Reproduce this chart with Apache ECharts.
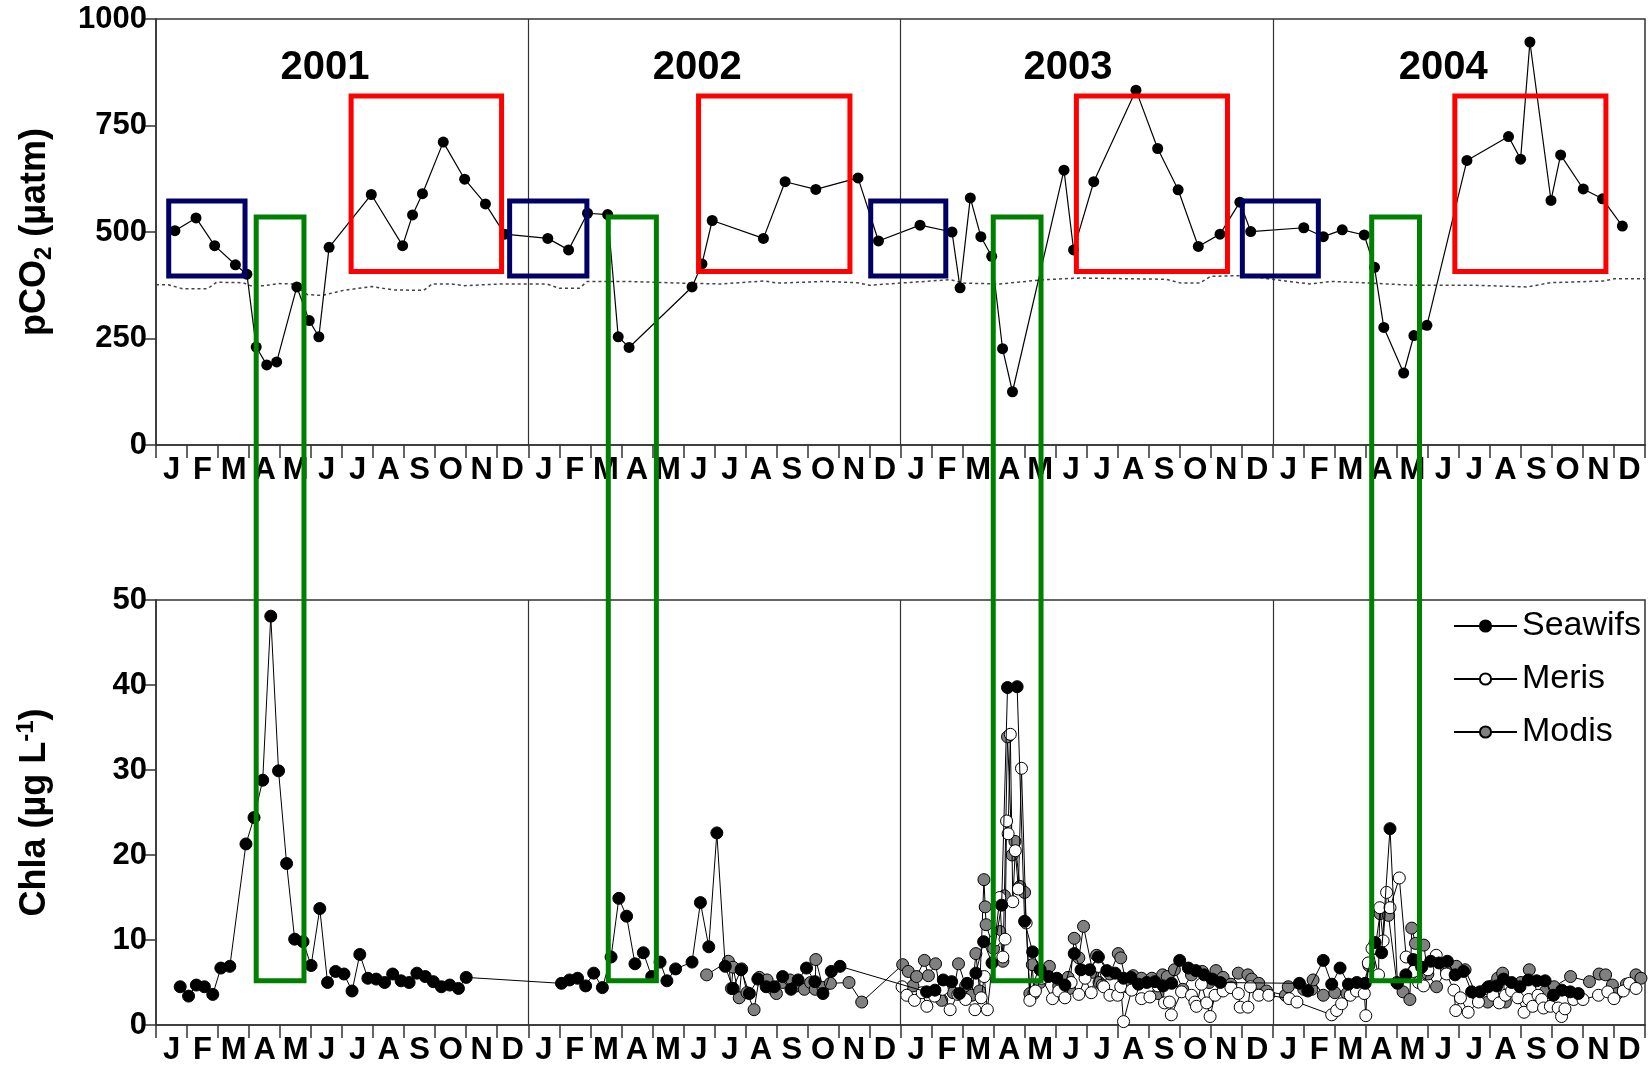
<!DOCTYPE html>
<html><head><meta charset="utf-8">
<script src="https://cdn.jsdelivr.net/npm/echarts@6/dist/echarts.min.js"></script>
<style>html,body{margin:0;padding:0;background:#fff}#c{width:1651px;height:1067px}</style>
</head><body><div id="c"></div>
<script>
// ---------- data (x in months since Jan 2001) ----------
const monthLetters = ['J','F','M','A','M','J','J','A','S','O','N','D'];
const years = ['2001','2002','2003','2004'];
const yearBoundaries = [12, 24, 36];
const yearLabelMonth = [5.45, 17.45, 29.4, 41.5];
const yearLabelValue = 886;

const pco2 = [[0.61,503],[1.29,533],[1.89,468],[2.56,423],[2.93,401],[3.23,230],[3.57,188],[3.89,195],[4.54,371],[4.94,292],[5.25,254],[5.58,464],[6.94,588],[7.95,468],[8.27,540],[8.59,590],[9.26,711],[9.95,624],[10.62,566],[11.24,495],[12.63,485],[13.30,458],[13.91,544],[14.56,541],[14.90,254],[15.25,229],[17.28,371],[17.60,425],[17.93,527],[19.58,485],[20.28,618],[21.27,600],[22.63,627],[23.29,479],[24.63,516],[25.66,500],[25.92,369],[26.25,580],[26.59,489],[26.94,443],[27.29,226],[27.61,125],[29.27,645],[29.58,458],[30.23,618],[31.59,833],[32.29,696],[32.95,599],[33.60,466],[34.30,495],[34.94,570],[35.29,501],[37.0,510],[37.63,489],[38.24,505],[38.95,493],[39.28,417],[39.58,276],[40.22,169],[40.55,257],[40.97,281],[42.26,668],[43.60,724],[43.99,671],[44.29,946],[44.97,574],[45.28,681],[46.01,601],[46.63,578],[47.27,514]];

const atmCO2 = [[0,376],[0.4,376],[0.85,367],[1.66,367],[1.95,382],[2.8,381],[3.04,374],[3.5,374],[3.96,379],[4.42,378],[4.88,353],[5.35,351],[6.04,363],[6.96,372],[7.65,364],[8.63,363],[8.9,378],[9.5,378],[9.95,374],[11.1,378],[12.6,378],[13.0,368],[13.65,368],[13.9,384],[15.2,384],[16.9,380],[18.2,378],[19.6,385],[20.05,380],[21.55,384],[22.6,381],[23.0,375],[23.97,380],[25.6,388],[26.04,380],[27.2,378],[28.6,388],[29.8,392],[32.56,389],[33.05,380],[33.65,380],[34.0,396],[35.2,398],[35.96,389],[37.2,378],[37.9,384],[38.9,381],[40.5,375],[42.5,375],[44.2,371],[44.96,381],[46.66,385],[47.0,390],[48,390]];

const seawifs = [[0.78,4.5],[1.05,3.4],[1.30,4.7],[1.56,4.5],[1.83,3.6],[2.09,6.7],[2.38,6.9],[2.90,21.3],[3.16,24.4],[3.44,28.8],[3.70,48.1],[3.95,29.9],[4.21,19.0],[4.47,10.1],[4.74,9.8],[5.0,7.0],[5.28,13.7],[5.53,5.0],[5.79,6.3],[6.06,6.0],[6.32,4.0],[6.57,8.3],[6.83,5.5],[7.10,5.4],[7.37,5.0],[7.63,6.0],[7.90,5.2],[8.16,5.0],[8.41,6.1],[8.68,5.7],[8.94,5.1],[9.20,4.5],[9.47,4.7],[9.75,4.3],[10.0,5.6],
[13.07,4.9],[13.33,5.3],[13.59,5.5],[13.85,4.6],[14.11,6.1],[14.39,4.4],[14.67,8.0],[14.92,14.9],[15.17,12.8],[15.44,7.2],[15.71,8.5],[15.98,5.7],[16.25,7.4],[16.47,5.2],[16.75,6.6],[17.28,7.4],[17.55,14.4],[17.82,9.2],[18.08,22.6],[18.35,6.9],[18.6,4.3],[18.86,6.5],[19.13,3.7],[19.4,5.4],[19.67,4.5],[19.93,4.5],[20.2,5.7],[20.47,4.2],[20.7,5.3],[20.97,6.7],[21.24,5.1],[21.5,3.7],[21.77,6.3],[22.05,6.9],
[24.84,3.9],[25.11,4.1],[25.38,5.3],[25.65,5.1],[25.9,3.7],[26.15,4.9],[26.43,6.1],[26.68,9.8],[26.95,7.3],[27.26,14.1],[27.45,39.7],[27.76,39.8],[28.0,12.2],[28.26,8.6],[28.5,6.5],[28.77,5.7],[29.04,5.5],[29.3,4.7],[29.6,8.4],[29.82,6.5],[30.1,6.5],[30.38,8.0],[30.65,6.4],[30.92,6.1],[31.19,5.5],[31.43,5.6],[31.67,4.8],[31.94,5.0],[32.2,5.1],[32.47,4.6],[32.74,4.9],[33.0,7.6],[33.28,6.7],[33.52,6.4],[33.79,5.9],[34.05,5.4],[34.31,5.0],
[36.86,4.9],[37.13,4.0],[37.63,7.6],[37.9,4.8],[38.17,6.7],[38.44,4.8],[38.71,5.0],[38.98,4.9],[39.3,9.7],[39.51,8.5],[39.78,23.1],[40.02,4.9],[40.29,5.9],[40.53,7.7],[40.8,6.8],[41.09,7.5],[41.36,7.3],[41.63,7.5],[41.88,5.9],[42.15,6.3],[42.41,3.9],[42.68,3.9],[42.95,4.5],[43.22,4.6],[43.44,5.4],[43.7,5.0],[43.97,4.5],[44.24,5.3],[44.51,5.2],[44.78,5.2],[45.05,3.5],[45.32,4.1],[45.59,3.9],[45.85,3.7]];

const meris = [[24.05,4.5],[24.2,3.5],[24.45,2.9],[24.7,3.8],[24.85,2.2],[25.1,3.4],[25.35,4.2],[25.6,1.8],[25.85,3.6],[26.1,3.0],[26.4,1.8],[26.6,3.2],[26.7,5.7],[26.8,1.8],[27.05,10.0],[27.2,15.0],[27.3,8.0],[27.37,10.1],[27.42,24.0],[27.47,22.5],[27.54,34.2],[27.62,14.5],[27.7,20.5],[27.8,16.0],[27.9,30.2],[28.05,12.0],[28.17,2.9],[28.35,4.0],[28.55,5.5],[28.9,3.1],[29.1,4.0],[29.3,3.2],[29.5,5.0],[29.75,3.6],[29.95,5.5],[30.15,3.8],[30.38,6.9],[30.55,4.5],[30.75,3.5],[31.0,3.5],[31.1,4.5],[31.19,0.4],[31.45,4.1],[31.77,3.1],[32.04,3.3],[32.3,4.6],[32.51,2.6],[32.67,2.7],[32.73,1.2],[33.06,3.9],[33.38,3.5],[33.49,2.7],[33.54,2.2],[33.7,4.8],[33.87,2.6],[33.98,1.0],[34.14,3.5],[34.4,4.0],[34.65,4.4],[34.89,3.7],[34.95,2.1],[35.2,2.1],[35.28,4.5],[35.55,3.5],[35.87,3.5],
[36.53,3.1],[36.78,2.7],[37.9,1.2],[38.06,1.7],[38.22,2.5],[38.5,3.5],[38.7,4.0],[38.95,3.7],[39.0,1.1],[39.08,7.3],[39.2,9.0],[39.41,5.9],[39.45,13.8],[39.56,9.9],[39.67,15.6],[39.78,13.8],[40.08,17.3],[40.3,8.0],[40.53,6.3],[40.7,5.0],[40.86,4.6],[41.0,6.5],[41.27,8.2],[41.6,6.0],[41.84,4.1],[41.9,1.7],[42.05,3.2],[42.3,1.5],[42.63,2.7],[42.9,4.3],[43.1,3.5],[43.3,2.6],[43.5,3.5],[43.7,4.0],[43.9,3.2],[44.1,1.5],[44.25,3.0],[44.38,2.2],[44.55,3.5],[44.67,3.0],[44.73,2.0],[44.95,2.2],[45.2,2.0],[45.31,1.0],[45.42,1.9],[45.7,3.0],[46.0,3.0],[46.5,3.5],[46.8,3.9],[47.0,3.1],[47.3,4.0],[47.5,4.9],[47.71,4.3]];

const modis = [[17.75,5.9],[18.45,7.5],[18.55,4.3],[18.6,6.8],[18.8,3.2],[18.88,6.6],[19.05,3.8],[19.28,1.8],[19.45,5.6],[19.7,5.3],[19.9,4.2],[20.0,3.7],[20.2,5.0],[20.44,5.3],[20.65,4.6],[20.9,4.2],[21.1,5.0],[21.25,4.2],[21.27,7.7],[21.5,4.4],[21.74,4.9],[22.34,5.0],[22.75,2.7],[24.07,7.1],
[24.25,6.3],[24.4,4.6],[24.52,5.7],[24.77,7.6],[24.9,5.8],[25.13,7.2],[25.33,2.9],[25.5,4.8],[25.7,3.8],[25.87,7.2],[26.1,4.6],[26.3,3.5],[26.43,8.4],[26.55,4.0],[26.69,17.1],[26.73,13.9],[26.76,11.8],[27.0,9.0],[27.2,11.0],[27.3,7.5],[27.35,15.2],[27.45,33.9],[27.6,20.0],[27.69,21.6],[27.85,16.3],[28.0,15.6],[28.17,3.7],[28.25,7.1],[28.3,3.7],[28.5,5.0],[28.8,6.9],[29.1,4.6],[29.4,5.6],[29.45,4.3],[29.6,10.2],[29.75,7.9],[29.9,11.6],[30.2,6.2],[30.32,8.2],[30.4,5.0],[30.5,4.7],[30.75,6.0],[31.02,8.4],[31.1,7.9],[31.3,4.5],[31.5,5.8],[31.77,5.5],[32.1,5.5],[32.3,3.7],[32.45,5.9],[32.6,5.7],[32.83,6.5],[33.1,4.2],[33.38,5.9],[33.73,6.3],[33.95,5.0],[34.17,6.4],[34.4,5.6],[34.65,4.8],[34.89,6.1],[35.2,5.9],[35.32,5.4],[35.55,4.9],[35.8,4.0],
[36.41,3.5],[36.5,4.5],[37.0,4.2],[37.26,4.2],[37.3,5.3],[37.63,3.5],[38.0,3.8],[38.39,3.7],[38.65,4.2],[38.93,4.8],[39.1,7.0],[39.3,9.0],[39.46,13.1],[39.73,12.9],[40.0,5.0],[40.2,3.9],[40.42,3.0],[40.48,11.4],[40.6,9.6],[40.87,9.4],[41.0,6.0],[41.28,4.5],[41.6,6.5],[41.92,6.9],[42.2,6.5],[42.55,3.7],[42.93,2.7],[43.08,4.6],[43.25,5.5],[43.41,6.1],[43.5,2.7],[43.8,4.2],[44.0,5.0],[44.27,6.5],[44.57,3.4],[44.8,4.0],[45.07,4.5],[45.6,5.7],[46.21,5.1],[46.52,6.0],[46.73,5.9],[46.95,4.7],[47.1,3.7],[47.4,4.8],[47.71,5.9],[47.87,5.5]];

// annotation boxes: [startMonth, endMonth, lowValue, highValue] in pCO2 units
const blueBoxes = [[0.41,2.87,397,573],[11.4,13.89,397,573],[23.04,25.46,397,573],[35.02,37.47,397,573]];
const redBoxes = [[6.29,11.14,407,819],[17.49,22.37,407,819],[29.67,34.54,407,819],[41.87,46.74,407,819]];
// green boxes: [startMonth, endMonth]; top in pCO2 units, bottom in Chla units
const greenBoxes = [[3.23,4.77],[14.58,16.13],[26.99,28.53],[39.19,40.73]];
const greenTopPco2 = 535;
const greenBottomChla = 5.2;

// ---------- chart ----------
const FONT = '"Liberation Sans", Arial, sans-serif';
const monthLabels48 = [].concat(monthLetters, monthLetters, monthLetters, monthLetters);
const chart = echarts.init(document.getElementById('c'), null, {renderer:'canvas'});
const axisCol = '#333';

function valueX(grid){
  return {type:'value', gridIndex:grid, min:0, max:48, interval:1, position:'bottom',
    axisLine:{show:true, onZero:false, lineStyle:{color:axisCol, width:1.5}},
    axisTick:{show:true, length:13, lineStyle:{color:axisCol, width:1.5}},
    axisLabel:{show:false}, splitLine:{show:false}};
}
function catX(grid){
  return {type:'category', gridIndex:grid, data:monthLabels48, position:'bottom',
    axisLine:{show:false}, axisTick:{show:false}, splitLine:{show:false},
    axisLabel:{interval:0, margin:10, fontSize:31, fontWeight:'bold', color:'#000', fontFamily:FONT}};
}
const yearLineMark = {silent:true, symbol:['none','none'], label:{show:false},
  lineStyle:{type:'solid', color:axisCol, width:1.2}, animation:false,
  data: yearBoundaries.map(v => ({xAxis:v}))};
const yLabel = {fontSize:31, fontWeight:'bold', color:'#000', margin:9, fontFamily:FONT, formatter:(v)=>String(v)};

const option = {
  animation:false,
  backgroundColor:'#fff',
  grid:[
    {left:156, right:6, top:19, height:426, show:true, borderColor:axisCol, borderWidth:1.5, containLabel:false},
    {left:156, right:6, top:600, height:425, show:true, borderColor:axisCol, borderWidth:1.5, containLabel:false}
  ],
  xAxis:[valueX(0), catX(0), valueX(1), catX(1)],
  yAxis:[
    {type:'value', gridIndex:0, min:0, max:1000, interval:250,
     axisLine:{show:true, lineStyle:{color:axisCol, width:1.5}},
     axisTick:{show:true, length:12, lineStyle:{color:axisCol, width:1.5}},
     axisLabel:yLabel, splitLine:{show:false},
     name:'{a|pCO}{s|2}{a| (µatm)}', nameLocation:'middle', nameRotate:90, nameGap:100,
     nameTextStyle:{rich:{
       a:{fontSize:36, fontWeight:'bold', color:'#000', lineHeight:42, fontFamily:FONT},
       s:{fontSize:24, fontWeight:'bold', color:'#000', lineHeight:20, verticalAlign:'bottom', fontFamily:FONT}}}},
    {type:'value', gridIndex:1, min:0, max:50, interval:10,
     axisLine:{show:true, lineStyle:{color:axisCol, width:1.5}},
     axisTick:{show:true, length:12, lineStyle:{color:axisCol, width:1.5}},
     axisLabel:yLabel, splitLine:{show:false},
     name:'{a|Chla (µg L}{p|-1}{a|)}', nameLocation:'middle', nameRotate:90, nameGap:100,
     nameTextStyle:{rich:{
       a:{fontSize:36, fontWeight:'bold', color:'#000', lineHeight:42, fontFamily:FONT},
       p:{fontSize:24, fontWeight:'bold', color:'#000', lineHeight:20, verticalAlign:'top', fontFamily:FONT}}}}
  ],
  legend:{
    data:['Seawifs','Meris','Modis'], orient:'vertical', left:1448, top:604,
    itemWidth:63, itemHeight:14, itemGap:19,
    textStyle:{fontSize:34, color:'#000', fontFamily:FONT}
  },
  series:[
    {name:'atm', type:'line', xAxisIndex:0, yAxisIndex:0, data:atmCO2, showSymbol:false, symbol:'none',
     lineStyle:{color:'#444', width:1.5, type:[3,3]}, z:2, silent:true},
    {name:'pCO2', type:'line', xAxisIndex:0, yAxisIndex:0, data:pco2, symbol:'circle', symbolSize:11,
     itemStyle:{color:'#000'}, lineStyle:{color:'#000', width:1.2}, z:3, markLine:yearLineMark},
    {name:'Modis', type:'line', xAxisIndex:2, yAxisIndex:1, data:modis, symbol:'circle', symbolSize:12,
     itemStyle:{color:'#808080', borderColor:'#000', borderWidth:1}, lineStyle:{color:'#000', width:1}, z:3,
     markLine:yearLineMark},
    {name:'Meris', type:'line', xAxisIndex:2, yAxisIndex:1, data:meris, symbol:'circle', symbolSize:12,
     itemStyle:{color:'#fff', borderColor:'#000', borderWidth:1}, lineStyle:{color:'#000', width:1}, z:4},
    {name:'Seawifs', type:'line', xAxisIndex:2, yAxisIndex:1, data:seawifs, symbol:'circle', symbolSize:12,
     itemStyle:{color:'#000', borderColor:'#000', borderWidth:1}, lineStyle:{color:'#000', width:1}, z:5}
  ]
};
chart.setOption(option);

// ---------- annotations placed through the axes' scales ----------
const topFinder = {seriesIndex:1};
const botFinder = {seriesIndex:4};
function rectFrom(p1, p2, color){
  const x = Math.min(p1[0], p2[0]), y = Math.min(p1[1], p2[1]);
  return {type:'rect', z:100, silent:true,
    shape:{x:x, y:y, width:Math.abs(p2[0]-p1[0]), height:Math.abs(p2[1]-p1[1])},
    style:{fill:'none', stroke:color, lineWidth:5}};
}
const graphics = [];
years.forEach((yr, i) => {
  const p = chart.convertToPixel(topFinder, [yearLabelMonth[i], yearLabelValue]);
  graphics.push({type:'text', x:p[0], y:p[1], z:100, silent:true,
    style:{text:yr, fill:'#000', font:'bold 40px "Liberation Sans", Arial, sans-serif',
      align:'center', verticalAlign:'middle', textAlign:'center', textVerticalAlign:'middle'}});
});
blueBoxes.forEach(b => {
  graphics.push(rectFrom(chart.convertToPixel(topFinder,[b[0],b[3]]), chart.convertToPixel(topFinder,[b[1],b[2]]), '#000066'));
});
redBoxes.forEach(b => {
  graphics.push(rectFrom(chart.convertToPixel(topFinder,[b[0],b[3]]), chart.convertToPixel(topFinder,[b[1],b[2]]), '#ff0000'));
});
greenBoxes.forEach(b => {
  graphics.push(rectFrom(chart.convertToPixel(topFinder,[b[0],greenTopPco2]), chart.convertToPixel(botFinder,[b[1],greenBottomChla]), '#008000'));
});
chart.setOption({graphic:graphics});
</script>
</body></html>
